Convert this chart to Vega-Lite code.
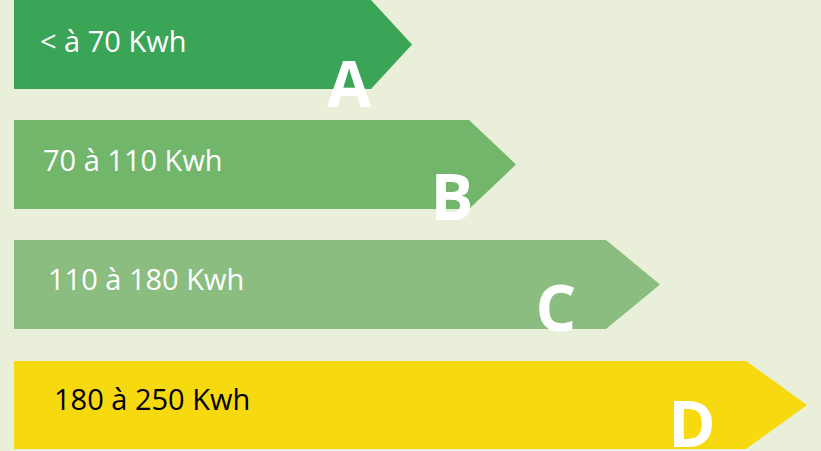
{
  "$schema": "https://vega.github.io/schema/vega-lite/v6.json",
  "width": 821,
  "height": 451,
  "autosize": {"type": "none"},
  "padding": 0,
  "background": "#e9efd9",
  "config": {"view": {"stroke": null}},
  "datasets": {
    "arrows": [
      {"classe": "A", "x": 14, "top": 0, "bottom": 89},
      {"classe": "A", "x": 371, "top": 0, "bottom": 89},
      {"classe": "A", "x": 412, "top": 44.5, "bottom": 44.5},
      {"classe": "B", "x": 14, "top": 120, "bottom": 209},
      {"classe": "B", "x": 469, "top": 120, "bottom": 209},
      {"classe": "B", "x": 516, "top": 164.5, "bottom": 164.5},
      {"classe": "C", "x": 14, "top": 240, "bottom": 329},
      {"classe": "C", "x": 606, "top": 240, "bottom": 329},
      {"classe": "C", "x": 660, "top": 284.5, "bottom": 284.5},
      {"classe": "D", "x": 14, "top": 361, "bottom": 449},
      {"classe": "D", "x": 746, "top": 361, "bottom": 449},
      {"classe": "D", "x": 807, "top": 405, "bottom": 405}
    ],
    "labels": [
      {"classe": "A", "label": "< à 70 Kwh", "x": 40, "y": 52, "ink": "white"},
      {"classe": "B", "label": "70 à 110 Kwh", "x": 43, "y": 171, "ink": "white"},
      {"classe": "C", "label": "110 à 180 Kwh", "x": 48, "y": 290, "ink": "white"},
      {"classe": "D", "label": "180 à 250 Kwh", "x": 54, "y": 410, "ink": "black"}
    ],
    "letters": [
      {"classe": "A", "x": 349, "y": 107},
      {"classe": "B", "x": 452, "y": 220},
      {"classe": "C", "x": 556, "y": 331},
      {"classe": "D", "x": 692, "y": 447}
    ]
  },
  "layer": [
    {
      "data": {"name": "arrows"},
      "mark": {"type": "area", "interpolate": "linear"},
      "encoding": {
        "x": {"field": "x", "type": "quantitative", "scale": {"domain": [0, 821], "nice": false, "zero": false}, "axis": null},
        "y": {"field": "top", "type": "quantitative", "scale": {"domain": [0, 451], "nice": false, "zero": false, "reverse": true}, "axis": null},
        "y2": {"field": "bottom"},
        "color": {"field": "classe", "type": "nominal", "scale": {"domain": ["A", "B", "C", "D"], "range": ["#3ba557", "#72b66b", "#8abd7f", "#f6d90f"]}, "legend": null},
        "detail": {"field": "classe"}
      }
    },
    {
      "data": {"name": "labels"},
      "mark": {"type": "text", "align": "left", "baseline": "alphabetic", "font": "Open Sans", "fontSize": 29},
      "encoding": {
        "x": {"field": "x", "type": "quantitative"},
        "y": {"field": "y", "type": "quantitative"},
        "text": {"field": "label"},
        "color": {"field": "ink", "type": "nominal", "scale": null}
      }
    },
    {
      "data": {"name": "letters"},
      "mark": {"type": "text", "align": "center", "baseline": "alphabetic", "font": "Open Sans", "fontWeight": "bold", "fontSize": 64, "color": "white"},
      "encoding": {
        "x": {"field": "x", "type": "quantitative"},
        "y": {"field": "y", "type": "quantitative"},
        "text": {"field": "classe"}
      }
    }
  ]
}
